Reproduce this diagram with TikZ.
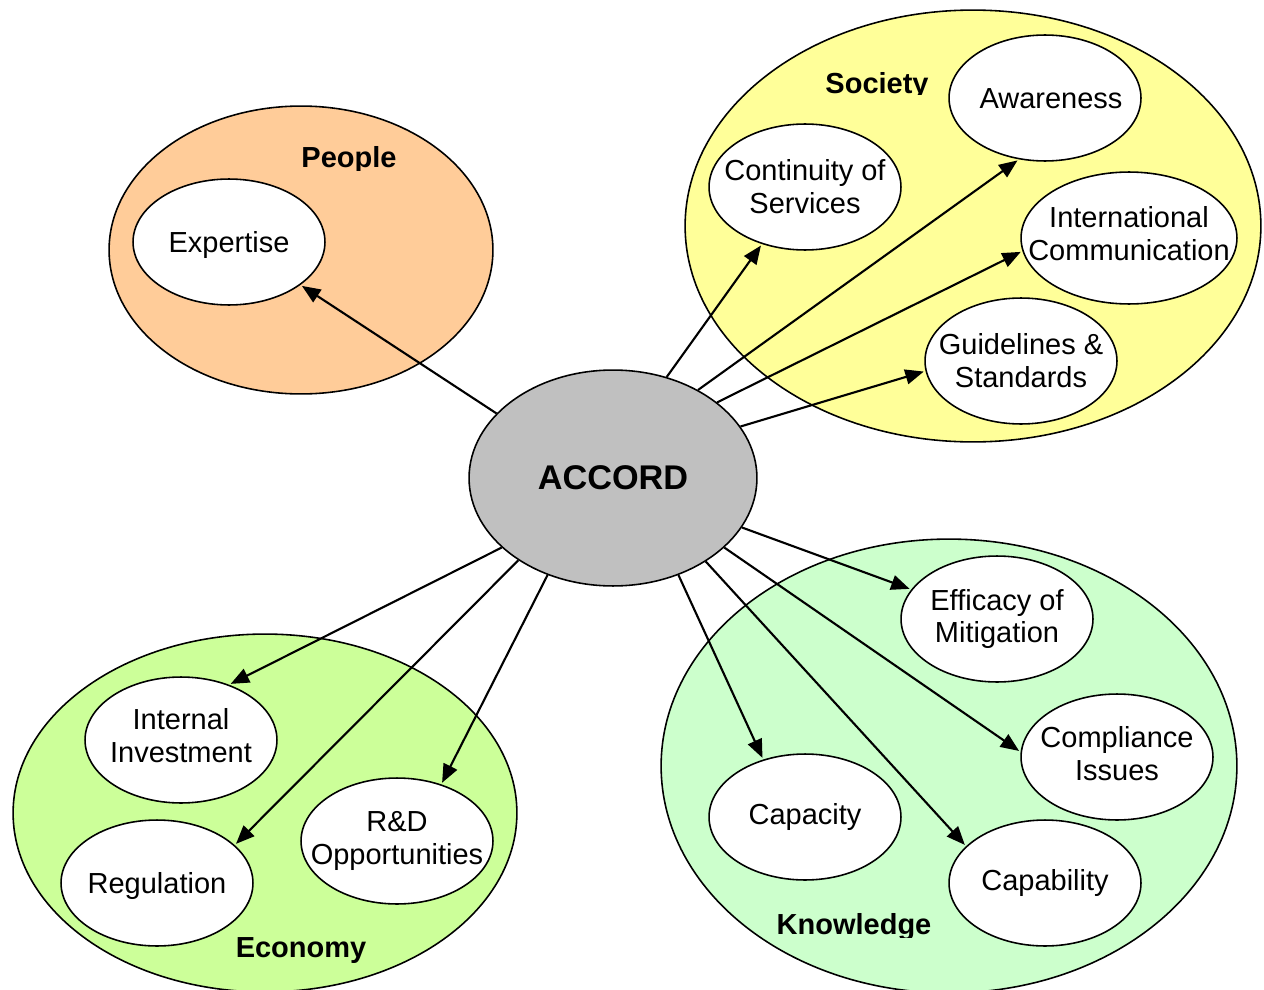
\documentclass[tikz,border=0pt]{standalone}
\usepackage{fontspec}
\setmainfont{Liberation Sans}
\usetikzlibrary{shapes.geometric,arrows.meta}
\definecolor{peoplefill}{HTML}{FFCC99}
\definecolor{societyfill}{HTML}{FFFF99}
\definecolor{economyfill}{HTML}{CCFF99}
\definecolor{knowfill}{HTML}{CCFFCC}
\definecolor{accordfill}{HTML}{C0C0C0}
\begin{document}
\begin{tikzpicture}[x=0.02cm,y=-0.02cm,
  oval/.style 2 args={ellipse, draw=black, line width=0.9pt, inner sep=0pt,
    minimum width=#1*0.04cm, minimum height=#2*0.04cm},
  item/.style={oval={96}{63}, fill=white},
  txt/.style={align=center, font=\fontsize{16.5}{18.7}\selectfont, inner sep=0pt},
  head/.style={anchor=base, font=\fontsize{16.5}{18.7}\selectfont\bfseries, inner sep=0pt},
  arr/.style={line width=1.2pt, -{Triangle[length=10.5pt,width=8.5pt]}, shorten >=1pt}
]
\useasboundingbox (0,0) rectangle (1264,990);

% topic areas
\node[oval={192}{144}, fill=peoplefill] (people) at (301,250) {};
\node[oval={288}{216}, fill=societyfill] (society) at (973,226) {};
\node[oval={252}{179}, fill=economyfill] (economy) at (265,813) {};
\node[oval={288}{227}, fill=knowfill] (knowledge) at (949,766) {};

% topic headings (descenders trimmed by their text boxes)
\begin{scope}
  \clip (250,130) rectangle (450,170);
  \node[head] (hpeople) at (349,167) {People};
\end{scope}
\begin{scope}
  \clip (800,60) rectangle (950,95);
  \node[head] (hsociety) at (877,93) {Society};
\end{scope}
\begin{scope}
  \clip (200,920) rectangle (400,962);
  \node[head] (heconomy) at (301,957) {Economy};
\end{scope}
\begin{scope}
  \clip (750,900) rectangle (960,937);
  \node[head] (hknow) at (854,934) {Knowledge};
\end{scope}

% hub
\node[oval={144}{108}, fill=accordfill] (acc) at (613,478) {};
\node[txt, font=\fontsize{19.5}{22}\selectfont\bfseries] (acctxt) at (613,478) {ACCORD};

% items
\node[item] (exp) at (229,242) {};
\node[item] (cont) at (805,187) {};
\node[item] (aw) at (1045,98) {};
\node[oval={108}{66}, fill=white] (intl) at (1129,238) {};
\node[item] (gui) at (1021,361) {};
\node[item] (eff) at (997,619) {};
\node[item] (comp) at (1117,757) {};
\node[item] (capac) at (805,817) {};
\node[item] (capab) at (1045,883) {};
\node[item] (inv) at (181,740) {};
\node[item] (reg) at (157,883) {};
\node[item] (rd) at (397,841) {};

\node[txt] (texp) at (229,245) {Expertise};
\node[txt] (tcont) at (cont) {Continuity of\\Services};
\node[txt] (taw) at (1051,99) {Awareness};
\node[txt] (tintl) at (1129,234) {International\\Communication};
\node[txt] (tgui) at (gui) {Guidelines \&\\Standards};
\node[txt] (teff) at (eff) {Efficacy of\\Mitigation};
\node[txt] (tcomp) at (1117,754) {Compliance\\Issues};
\node[txt] (tcapac) at (capac) {Capacity};
\node[txt] (tcapab) at (capab) {Capability};
\node[txt] (tinv) at (181,736) {Internal\\Investment};
\node[txt] (treg) at (157,886) {Regulation};
\node[txt] (trd) at (rd) {R\&D\\Opportunities};

% links from the hub
\draw[arr] (acc.151) -- (exp.-31);
\draw[arr] (acc.62) -- (cont.-127);
\draw[arr] (acc.46) -- (aw.-113);
\draw[arr] (acc.36) -- (intl.-173);
\draw[arr] (acc.22) -- (gui.-174);
\draw[arr] (acc.-21) -- (eff.161);
\draw[arr] (acc.-32) -- (comp.177);
\draw[arr] (acc.-42) -- (capab.155);
\draw[arr] (acc.-56) -- (capac.126);
\draw[arr] (acc.-148) -- (inv.49);
\draw[arr] (acc.-139) -- (reg.26);
\draw[arr] (acc.-124) -- (rd.52);
\end{tikzpicture}
\end{document}
